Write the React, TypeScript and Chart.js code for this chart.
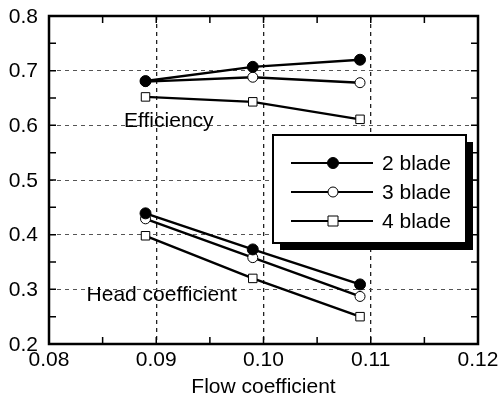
import React, { useEffect, useRef } from "react";
import { Chart, registerables } from "chart.js";

Chart.register(...registerables);

const flowCoefficient = [0.089, 0.099, 0.109];
const seriesNames = ["2 blade", "3 blade", "4 blade"];
const efficiency2 = [0.681, 0.707, 0.72];
const efficiency3 = [0.68, 0.688, 0.678];
const efficiency4 = [0.652, 0.643, 0.611];
const head2 = [0.439, 0.373, 0.309];
const head3 = [0.429, 0.358, 0.287];
const head4 = [0.398, 0.32, 0.25];
const xTicks = [0.08, 0.09, 0.1, 0.11, 0.12];
const yTicks = [0.2, 0.3, 0.4, 0.5, 0.6, 0.7, 0.8];
const xTitle = "Flow coefficient";

const FONT = "'Liberation Sans', Arial, sans-serif";

type Style = { pointStyle: string; radius: number; fill: string };
const styles: Style[] = [
  { pointStyle: "circle", radius: 5.5, fill: "#000" },
  { pointStyle: "circle", radius: 5, fill: "#fff" },
  { pointStyle: "rect", radius: 6, fill: "#fff" },
];

const toPts = (ys: number[]) => flowCoefficient.map((x, i) => ({ x, y: ys[i] }));

function makeDataset(label: string, ys: number[], s: Style) {
  return {
    label,
    data: toPts(ys),
    showLine: true,
    borderColor: "#000",
    borderWidth: 2.4,
    pointStyle: s.pointStyle,
    pointRadius: s.radius,
    pointBackgroundColor: s.fill,
    pointBorderColor: "#000",
    pointBorderWidth: 1,
  };
}

const decorPlugin = {
  id: "decor",
  afterDatasetsDraw(chart: any) {
    const ctx = chart.ctx;
    const { left, right, top, bottom } = chart.chartArea;
    const xs = chart.scales.x;
    const ys = chart.scales.y;
    ctx.save();
    ctx.strokeStyle = "#000";
    ctx.lineWidth = 1.5;
    const tl = 7;
    for (let i = 0; i < xTicks.length - 1; i++) {
      const vals = [xTicks[i], (xTicks[i] + xTicks[i + 1]) / 2];
      for (const v of vals) {
        const px = xs.getPixelForValue(v);
        ctx.beginPath();
        ctx.moveTo(px, bottom);
        ctx.lineTo(px, bottom - tl);
        ctx.moveTo(px, top);
        ctx.lineTo(px, top + tl);
        ctx.stroke();
      }
    }
    for (let i = 0; i < yTicks.length - 1; i++) {
      const vals = [yTicks[i], (yTicks[i] + yTicks[i + 1]) / 2];
      for (const v of vals) {
        const py = ys.getPixelForValue(v);
        ctx.beginPath();
        ctx.moveTo(left, py);
        ctx.lineTo(left + tl, py);
        ctx.moveTo(right, py);
        ctx.lineTo(right - tl, py);
        ctx.stroke();
      }
    }
    ctx.lineWidth = 2.5;
    ctx.strokeRect(left, top, right - left, bottom - top);

    // tick labels & title
    ctx.fillStyle = "#000";
    ctx.font = `21px ${FONT}`;
    ctx.textBaseline = "middle";
    ctx.textAlign = "right";
    yTicks.forEach((v) => ctx.fillText(v.toFixed(1), left - 11, ys.getPixelForValue(v) + 1));
    ctx.textAlign = "center";
    xTicks.forEach((v) => ctx.fillText(v.toFixed(2), xs.getPixelForValue(v), bottom + 16));
    ctx.fillText(xTitle, (left + right) / 2, bottom + 43);

    ctx.textAlign = "left";
    ctx.fillText("Efficiency", xs.getPixelForValue(0.0870), ys.getPixelForValue(0.607));
    ctx.fillText("Head coefficient", xs.getPixelForValue(0.0835), ys.getPixelForValue(0.289));

    // legend
    const lx = left + 224;
    const ly = top + 119;
    const lw = 193;
    const lh = 108;
    ctx.fillStyle = "#000";
    ctx.fillRect(lx + 7, ly + 7, lw, lh);
    ctx.fillStyle = "#fff";
    ctx.fillRect(lx, ly, lw, lh);
    ctx.lineWidth = 2;
    ctx.strokeStyle = "#000";
    ctx.strokeRect(lx, ly, lw, lh);
    seriesNames.forEach((name, i) => {
      const yy = ly + 28 + i * 29;
      ctx.lineWidth = 2;
      ctx.beginPath();
      ctx.moveTo(lx + 18, yy);
      ctx.lineTo(lx + 100, yy);
      ctx.stroke();
      const s = styles[i];
      ctx.lineWidth = 1;
      ctx.fillStyle = s.fill;
      ctx.beginPath();
      const cx = lx + 60;
      if (s.pointStyle === "circle") {
        ctx.arc(cx, yy, s.radius, 0, Math.PI * 2);
      } else {
        ctx.rect(cx - 5, yy - 5, 10, 10);
      }
      ctx.fill();
      ctx.stroke();
      ctx.fillStyle = "#000";
      ctx.font = `21px ${FONT}`;
      ctx.textAlign = "left";
      ctx.fillText(name, lx + 109, yy + 1);
    });
    ctx.restore();
  },
};

export default function App() {
  const ref = useRef<HTMLCanvasElement>(null);
  useEffect(() => {
    document.body.style.margin = "0";
    const datasets = [
      makeDataset(seriesNames[0], efficiency2, styles[0]),
      makeDataset(seriesNames[1], efficiency3, styles[1]),
      makeDataset(seriesNames[2], efficiency4, styles[2]),
      makeDataset(seriesNames[0], head2, styles[0]),
      makeDataset(seriesNames[1], head3, styles[1]),
      makeDataset(seriesNames[2], head4, styles[2]),
    ];
    const edge = (ticks: number[]) => (c: any, col: string) =>
      c.tick && (c.tick.value <= ticks[0] + 1e-9 || c.tick.value >= ticks[ticks.length - 1] - 1e-9)
        ? "rgba(0,0,0,0)"
        : col;
    const chart = new Chart(ref.current!, {
      type: "scatter",
      data: { datasets: datasets as any },
      options: {
        animation: false,
        responsive: false,
        layout: { padding: { left: 0, top: 16, right: 23, bottom: 0 } },
        plugins: { legend: { display: false }, tooltip: { enabled: false } },
        scales: {
          x: {
            type: "linear",
            min: xTicks[0],
            max: xTicks[xTicks.length - 1],
            afterBuildTicks: (s: any) => {
              s.ticks = xTicks.map((v) => ({ value: v }));
            },
            afterFit: (s: any) => {
              s.height = 53;
            },
            border: { display: false, dash: [4, 4] },
            grid: {
              drawTicks: false,
              color: (c: any) => edge(xTicks)(c, "#222"),
              lineWidth: 1.3,
            },
            ticks: { display: false },
          },
          y: {
            type: "linear",
            min: yTicks[0],
            max: yTicks[yTicks.length - 1],
            afterBuildTicks: (s: any) => {
              s.ticks = yTicks.map((v) => ({ value: v }));
            },
            afterFit: (s: any) => {
              s.width = 49;
            },
            border: { display: false, dash: [4, 4] },
            grid: {
              drawTicks: false,
              color: (c: any) => edge(yTicks)(c, "#555"),
              lineWidth: 1,
            },
            ticks: { display: false },
          },
        },
      },
      plugins: [decorPlugin],
    } as any);
    return () => chart.destroy();
  }, []);
  return (
    <div style={{ width: 501, height: 397 }}>
      <canvas ref={ref} width={501} height={397} style={{ width: 501, height: 397, display: "block" }} />
    </div>
  );
}
